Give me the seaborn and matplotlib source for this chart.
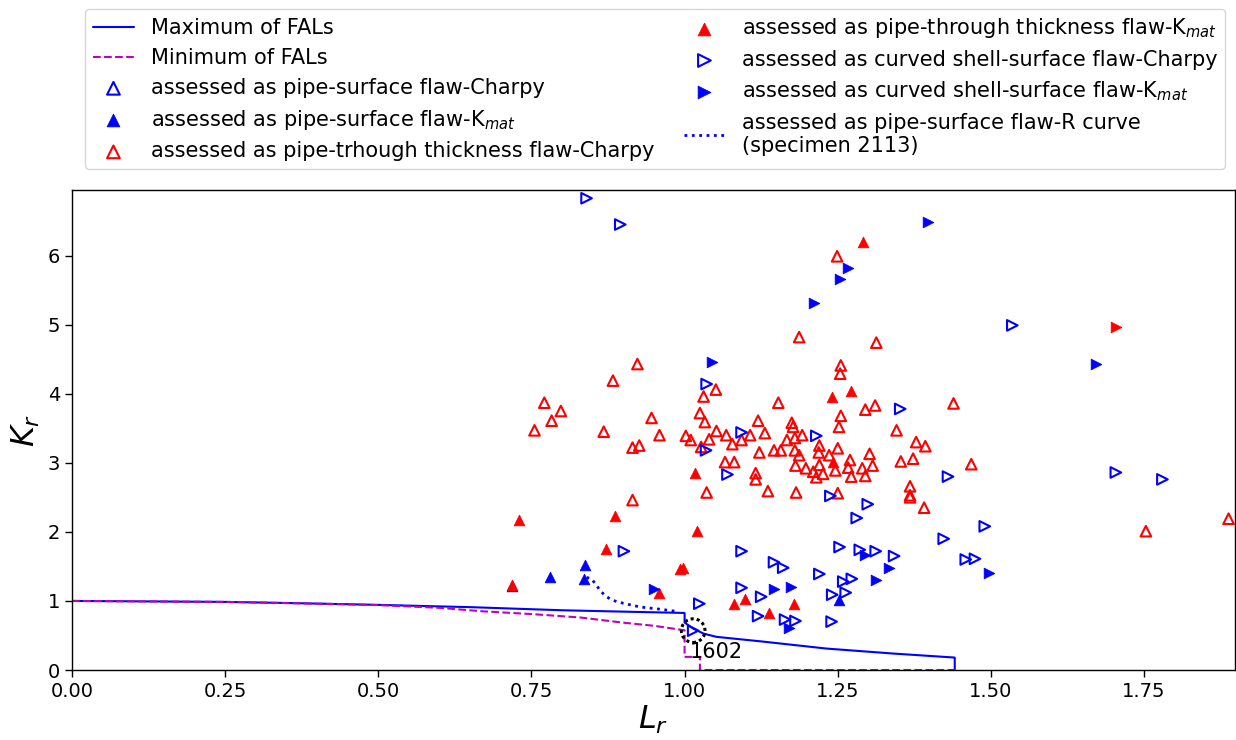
import numpy as np
import pandas as pd
import matplotlib
matplotlib.use("Agg")
import matplotlib.pyplot as plt
import seaborn as sns

# ---- Failure assessment lines (Lr, Kr) ----
fal_max_lr = [0.0, 0.25, 0.37, 0.50, 0.65, 0.80, 0.90, 1.00, 1.00, 1.014, 1.031, 1.052, 1.123, 1.232, 1.341, 1.441, 1.441]
fal_max_kr = [1.0, 0.986, 0.967, 0.943, 0.910, 0.865, 0.845, 0.826, 0.687, 0.600, 0.527, 0.480, 0.416, 0.310, 0.238, 0.180, 0.0]

fal_min_lr = [0.0, 0.25, 0.40, 0.50, 0.60, 0.67, 0.75, 0.83, 0.90, 0.95, 1.00, 1.00, 1.025, 1.025, 1.441]
fal_min_kr = [1.0, 0.986, 0.960, 0.940, 0.900, 0.850, 0.810, 0.760, 0.685, 0.640, 0.575, 0.190, 0.190, 0.0, 0.0]

# R-curve assessment of specimen 2113
rcurve_lr = [0.840, 0.848, 0.856, 0.862, 0.870, 0.878, 0.889, 0.900, 0.927, 0.960, 0.990]
rcurve_kr = [1.34, 1.32, 1.23, 1.15, 1.08, 1.03, 0.99, 0.966, 0.913, 0.880, 0.845]

# ---- Assessment points (Lr, Kr) ----
pipe_through_charpy = [
    (1.051, 4.06), (1.031, 3.96), (1.153, 3.87), (1.295, 3.77), (1.311, 3.83), (1.439, 3.86),
    (1.025, 3.72), (1.033, 3.59), (1.255, 3.68), (1.252, 3.52), (1.120, 3.61), (1.175, 3.58),
    (1.177, 3.52), (1.346, 3.47), (1.002, 3.39), (1.010, 3.33), (1.052, 3.46), (1.068, 3.40),
    (1.107, 3.40), (1.131, 3.43), (1.040, 3.34), (1.078, 3.27), (1.093, 3.33), (1.027, 3.23),
    (1.167, 3.33), (1.180, 3.36), (1.192, 3.40), (1.122, 3.15), (1.146, 3.18), (1.157, 3.18),
    (1.180, 3.18), (1.187, 3.11), (1.220, 3.25), (1.219, 3.15), (1.236, 3.11), (1.250, 3.21),
    (1.066, 3.01), (1.081, 3.01), (1.181, 2.96), (1.198, 2.92), (1.210, 2.87), (1.220, 2.97),
    (1.246, 2.89), (1.270, 3.04), (1.267, 2.93), (1.302, 3.13), (1.290, 2.92), (1.307, 2.96),
    (1.215, 2.79), (1.226, 2.84), (1.272, 2.80), (1.295, 2.81), (1.353, 3.02), (1.373, 3.06),
    (1.378, 3.30), (1.393, 3.24), (1.468, 2.98), (1.116, 2.85), (1.116, 2.76), (1.036, 2.57),
    (1.136, 2.59), (1.182, 2.57), (1.250, 2.56), (1.368, 2.66), (1.368, 2.53), (1.368, 2.50),
    (1.391, 2.35), (0.923, 4.43), (0.883, 4.19), (0.771, 3.87), (0.798, 3.75), (0.783, 3.61),
    (0.755, 3.47), (0.868, 3.45), (0.946, 3.65), (0.959, 3.40), (0.915, 3.22), (0.926, 3.25),
    (0.915, 2.46), (1.249, 5.99), (1.187, 4.82), (1.313, 4.74), (1.255, 4.41), (1.254, 4.29),
    (1.888, 2.19), (1.753, 2.01),
]
pipe_through_kmat = [
    (1.241, 3.96), (1.272, 4.04), (1.017, 2.85), (1.243, 3.01), (1.020, 2.01), (0.997, 1.47),
    (0.992, 1.46), (0.730, 2.17), (0.887, 2.23), (0.872, 1.75), (0.719, 1.23), (0.958, 1.12),
    (1.291, 6.19), (1.099, 1.03), (1.081, 0.95), (1.178, 0.96), (1.137, 0.83),
]
pipe_surface_charpy = []
pipe_surface_kmat = [(0.837, 1.52), (0.781, 1.35), (0.836, 1.32), (0.719, 1.21), (1.252, 1.02)]
shell_charpy = [
    (0.840, 6.83), (0.895, 6.45), (1.036, 4.14), (1.352, 3.78), (1.093, 3.44), (1.035, 3.18),
    (1.215, 3.39), (1.070, 2.83), (1.430, 2.80), (1.238, 2.52), (1.299, 2.40), (1.281, 2.20),
    (1.423, 1.90), (1.490, 2.08), (1.093, 1.72), (1.253, 1.78), (1.286, 1.74), (1.312, 1.72),
    (1.342, 1.65), (1.459, 1.60), (1.474, 1.61), (1.146, 1.56), (1.161, 1.48), (1.220, 1.39),
    (1.259, 1.28), (1.273, 1.32), (1.093, 1.19), (1.241, 1.09), (1.263, 1.12), (1.125, 1.06),
    (1.024, 0.96), (1.120, 0.78), (1.164, 0.73), (1.181, 0.71), (1.240, 0.70), (1.014, 0.57),
    (0.901, 1.72), (1.535, 4.99), (1.704, 2.86), (1.780, 2.76),
]
shell_kmat = [
    (1.044, 4.46), (1.294, 1.66), (1.334, 1.48), (1.497, 1.40), (1.312, 1.31), (1.146, 1.18),
    (1.173, 1.20), (1.170, 0.61), (0.950, 1.18), (1.397, 6.48), (1.267, 5.82), (1.253, 5.66),
    (1.212, 5.32), (1.671, 4.43),
]
shell_kmat_through = [(1.705, 4.96)]

# highlighted specimen
spec_id = "1602"
spec_point = (1.014, 0.57)

BLUE = "#0000ff"
RED = "#ff0000"
MAGENTA = "#bf00bf"

sns.set_theme(style="ticks", color_codes=False, rc={
    "axes.edgecolor": "black", "xtick.color": "black", "ytick.color": "black",
    "text.color": "black", "axes.labelcolor": "black",
    "xtick.labelsize": 14, "ytick.labelsize": 14,
})
plt.rcParams["font.family"] = ["DejaVu Sans"]

fig = plt.figure(figsize=(12.36, 7.40), dpi=100)
ax = fig.add_axes([72 / 1236, 70 / 740, 1163 / 1236, 480 / 740])


def frame(pts):
    return pd.DataFrame(pts, columns=["Lr", "Kr"]) if pts else pd.DataFrame({"Lr": [], "Kr": []})


sns.lineplot(x=fal_max_lr, y=fal_max_kr, sort=False, estimator=None, color=BLUE, lw=1.5,
             label="Maximum of FALs", ax=ax)
sns.lineplot(x=fal_min_lr, y=fal_min_kr, sort=False, estimator=None, color=MAGENTA, lw=1.5,
             ls="--", label="Minimum of FALs", ax=ax)

S = 58
LW = 1.5
series = [
    (pipe_surface_charpy, "^", False, BLUE, "assessed as pipe-surface flaw-Charpy"),
    (pipe_surface_kmat, "^", True, BLUE, "assessed as pipe-surface flaw-K$_{mat}$"),
    (pipe_through_charpy, "^", False, RED, "assessed as pipe-trhough thickness flaw-Charpy"),
    (pipe_through_kmat, "^", True, RED, "assessed as pipe-through thickness flaw-K$_{mat}$"),
    (shell_charpy, ">", False, BLUE, "assessed as curved shell-surface flaw-Charpy"),
    (shell_kmat, ">", True, BLUE, "assessed as curved shell-surface flaw-K$_{mat}$"),
]
for pts, mk, filled, col, lab in series:
    d = frame(pts)
    if len(d) == 0:
        ax.scatter([], [], marker=mk, s=S, facecolors="none", edgecolors=col, linewidths=LW, label=lab)
        continue
    sns.scatterplot(data=d, x="Lr", y="Kr", marker=mk, s=S,
                    facecolor=col if filled else "none", edgecolor=col,
                    linewidth=LW if not filled else 0.6, label=lab, ax=ax, zorder=3)

d = frame(shell_kmat_through)
sns.scatterplot(data=d, x="Lr", y="Kr", marker=">", s=S, facecolor=RED, edgecolor=RED,
                linewidth=0.6, ax=ax, zorder=3, legend=False)

sns.lineplot(x=rcurve_lr, y=rcurve_kr, sort=False, estimator=None, color=BLUE, lw=2,
             ls=":", label="assessed as pipe-surface flaw-R curve\n(specimen 2113)", ax=ax)

# mark the highlighted specimen
ax.scatter([spec_point[0]], [spec_point[1]], s=290, facecolors="none", edgecolors="black",
           linewidths=2.2, linestyles=(0, (1, 1)), zorder=4)
ax.text(spec_point[0] - 0.005, 0.17, spec_id, fontsize=15, va="baseline", ha="left")

ax.set_xlim(0, 1.8985)
ax.set_ylim(0, 6.95)
ax.set_xticks(np.arange(0, 1.76, 0.25))
ax.set_xticklabels([f"{v:.2f}" for v in np.arange(0, 1.76, 0.25)])
ax.set_yticks(range(0, 7))
ax.set_xlabel("$L_r$", fontsize=23, labelpad=2)
ax.set_ylabel("$K_r$", fontsize=23)
ax.tick_params(direction="out", length=5, width=1)
for sp in ax.spines.values():
    sp.set_linewidth(1.0)

ax.legend(loc="upper center", bbox_to_anchor=(0.530, 0.988), bbox_transform=fig.transFigure,
          ncol=2, fontsize=15, frameon=True, scatterpoints=1, handlelength=2,
          columnspacing=1.4, borderaxespad=0, labelspacing=0.47, markerscale=1.2,
          borderpad=0.35)

fig.savefig("out.png", dpi=100)
